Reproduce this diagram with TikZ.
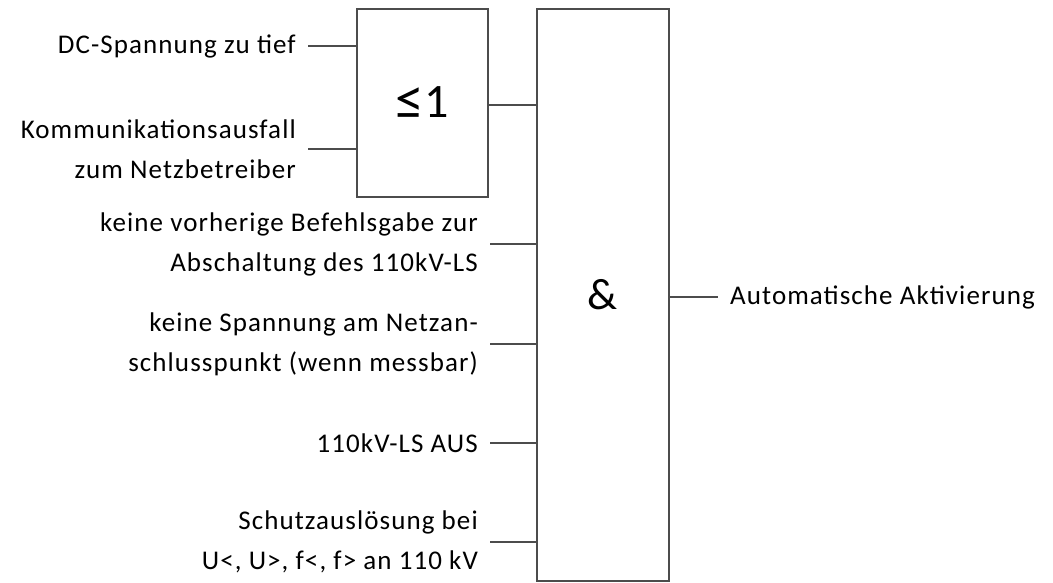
\documentclass[tikz,border=0pt]{standalone}
\usepackage{graphicx}
\usepackage{fontspec}
\setmainfont{Carlito}
\newfontfamily\spaced[LetterSpace=4]{Carlito}
\begin{document}
\begin{tikzpicture}[x=1pt,y=-1pt,
  gate/.style={draw=black!70,line width=1.3pt,minimum width=131pt,inner sep=0pt},
  lbl/.style={inner xsep=12pt,inner ysep=0pt,align=right,text=black,font=\spaced\fontsize{27}{40}\selectfont},
  olbl/.style={inner xsep=12pt,inner ysep=0pt,text=black,font=\spaced\fontsize{27}{40}\selectfont},
  wire/.style={draw=black!70,line width=1.3pt}]
\useasboundingbox (0,0) rectangle (1053,583);
\node[gate,minimum height=188pt,font=\fontsize{48}{50}\selectfont] (or) at (422.5,103) {\raisebox{-2pt}{\scalebox{1.2}{≤}}1};
\node[gate,minimum height=572pt,minimum width=132pt,font=\fontsize{44}{50}\selectfont] (and) at (603,295) {\&};
% OR inputs
\node[lbl,anchor=east] (dc) at (308,46) {DC-Spannung zu tief};
\node[lbl,anchor=east] (km) at (308,149) {Kommunikationsausfall\\zum Netzbetreiber};
\draw[wire] (dc.east) -- (dc.east -| or.west);
\draw[wire] (km.east) -- (km.east -| or.west);
% OR output
\coordinate (orout) at (or.east |- 0,105);
\draw[wire] (orout) -- (orout -| and.west);
% AND inputs
\node[lbl,anchor=east] (bf) at (490,244) {keine vorherige Befehlsgabe zur\\Abschaltung des 110kV-LS};
\node[lbl,anchor=east] (sp) at (490,344) {keine Spannung am Netzan-\\schlusspunkt (wenn messbar)};
\node[lbl,anchor=east] (ls) at (490,443) {110kV-LS AUS};
\node[lbl,anchor=east] (sa) at (490,542) {Schutzauslösung bei\\U<, U>, f<, f> an 110 kV};
\foreach \n in {bf,sp,ls,sa} \draw[wire] (\n.east) -- (\n.east -| and.west);
% output
\node[olbl,anchor=west] (out) at (718,297) {Automatische Aktivierung};
\draw[wire] (and.east |- out.west) -- (out.west);
\end{tikzpicture}
\end{document}
